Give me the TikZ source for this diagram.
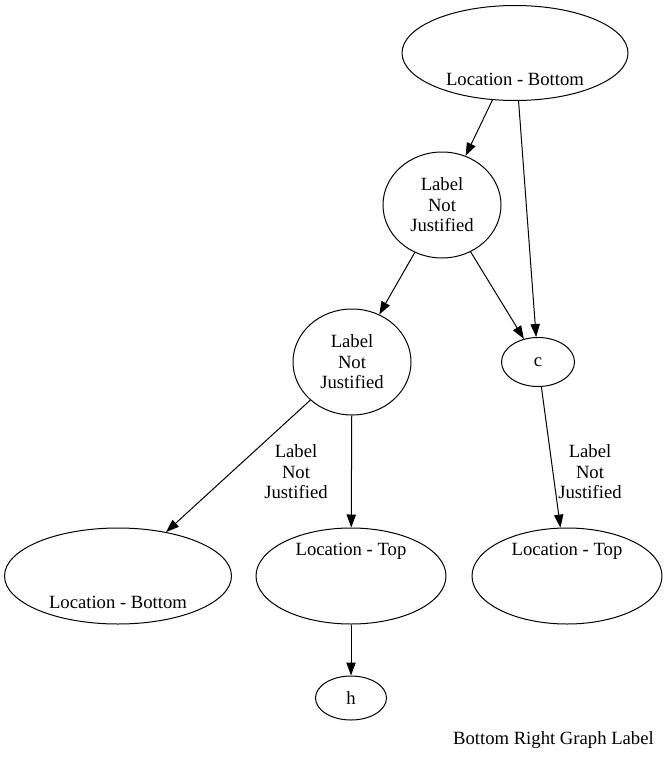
\documentclass[tikz,border=0pt]{standalone}
\usepackage{fontspec}
\setmainfont{Liberation Serif}
\usetikzlibrary{shapes.geometric,arrows.meta}
\begin{document}
\begin{tikzpicture}[x=0.75pt,y=-0.75pt,
  every node/.style={font=\fontsize{14}{15.4}\selectfont},
  gvnode/.style={draw, ellipse, line width=0.75pt, inner sep=0pt},
  gvtext/.style={align=center, inner sep=0pt},
  gvedge/.style={line width=0.75pt, -{Triangle[length=9.75pt,width=7pt]}}]
\useasboundingbox (0,0) rectangle (669,760);

% nodes
\node[gvnode, minimum width=169.5pt, minimum height=71.25pt] (A) at (515,53) {};
\node[gvtext] (Atext) at (515,79) {Location - Bottom};
\node[gvnode, gvtext, minimum width=88.5pt, minimum height=79.5pt] (B) at (442,205) {Label\\Not\\Justified};
\node[gvnode, gvtext, minimum width=88.5pt, minimum height=79.5pt] (C) at (352,362) {Label\\Not\\Justified};
\node[gvnode, minimum width=54.75pt, minimum height=36.75pt] (D) at (538,362) {c};
\node[gvnode, minimum width=170.25pt, minimum height=72pt] (E) at (118,576) {};
\node[gvtext] (Etext) at (118,602) {Location - Bottom};
\node[gvnode, minimum width=142.5pt, minimum height=72pt] (F) at (351,576) {};
\node[gvtext] (Ftext) at (351,551) {Location - Top};
\node[gvnode, minimum width=142.5pt, minimum height=72pt] (G) at (567,576) {};
\node[gvtext] (Gtext) at (567,551) {Location - Top};
\node[gvnode, minimum width=53.25pt, minimum height=33pt] (H) at (351,698) {h};

% edges
\draw[gvedge] (A) -- (B);
\draw[gvedge] (A) -- (D);
\draw[gvedge] (B) -- (C);
\draw[gvedge] (B) -- (D);
\draw[gvedge] (C) -- (E);
\draw[gvedge] (C) -- (F);
\draw[gvedge] (D) -- (G);
\draw[gvedge] (F) -- (H);

% edge labels
\node[gvtext] (CElabel) at (296,472) {Label\\Not\\Justified};
\node[gvtext] (DGlabel) at (590,472) {Label\\Not\\Justified};

% graph label
\node[gvtext, anchor=east] (glabel) at (654,740) {Bottom Right Graph Label};
\end{tikzpicture}
\end{document}
